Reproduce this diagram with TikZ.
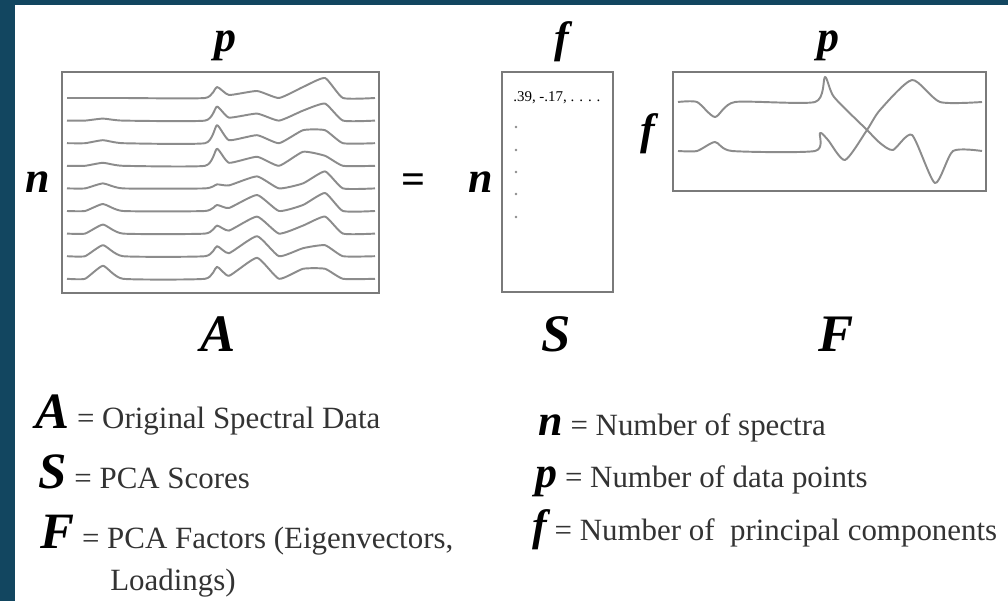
\documentclass[tikz,border=0pt]{standalone}
\usepackage{fontspec}
\setmainfont{Liberation Serif}
\usepackage{xcolor}
\usepackage{tikz}

\definecolor{frame}{HTML}{124660}
\definecolor{curve}{HTML}{8C8C8C}
\definecolor{boxline}{HTML}{7A7A7A}

\newcommand{\bigsym}[1]{{\color{black}\fontsize{29}{29}\selectfont\bfseries\itshape #1}}
\newcommand{\dimsym}[1]{{\color{black}\fontsize{25}{25}\selectfont\bfseries\itshape #1}}

\begin{document}
\begin{tikzpicture}[x=0.02cm,y=-0.02cm,
    mat/.style={draw=boxline,line width=1.4pt},
    spec/.style={curve,line width=1.1pt,line join=round},
    dim/.style={font=\fontsize{25}{25}\selectfont\bfseries\itshape,inner sep=0pt,anchor=base},
    big/.style={font=\fontsize{30}{30}\selectfont\bfseries\itshape,inner sep=0pt,anchor=base},
    key/.style={font=\fontsize{17.6}{21}\selectfont,text=black!80,inner sep=0pt,anchor=base west}]
    \fill[frame] (0,0) rectangle (1008,601);
    \fill[white] (15,5) rectangle (1008,601);
    \useasboundingbox (0,0) rectangle (1008,601);

    % A: the spectra
    \draw[mat] (62,72) rectangle (379,293);
    \foreach \a/\b/\c/\d/\e [count=\i from 0] in {0/11/7/11/20, 2/14/7/10/17, 3/18/8/13/13,
        3/17/9/14/10, 5/4/12/5/17, 7/6/16/6/18, 9/8/17/8/17, 11/10/20/8/11, 13/12/21/10/10}
        \draw[spec,shift={(0,{98+22.6*\i})}] plot[smooth,tension=0.3] coordinates {(67,0) (85,0)
            (103,-\a) (123,0) (205,0) (217,-\b) (229,-3) (257,-\c) (279,0) (303,-\d) (325,-\e)
            (343,0) (375,0)};

    % S: the scores
    \draw[mat] (502,72) rectangle (613,292);
    \node[font=\fontsize{8.5}{9}\selectfont,inner sep=0pt,anchor=west] (row1) at (513,98) {.39, -.17, . . . .};
    \foreach \y in {127,150,172,194,217}
        \fill[curve] (516,\y) circle[radius=1.3];

    % F: the factors
    \draw[mat] (673,72) rectangle (986,191);
    \draw[spec] plot[smooth,tension=0.4] coordinates {(678,102) (697,102) (715,117) (735,102)
        (815,102) (825,77) (834,97) (867,130) (880,143) (893,150) (912,135) (935,183) (953,151) (982,151)};
    \draw[spec] plot[smooth,tension=0.4] coordinates {(678,151) (697,151) (715,142) (732,151)
        (815,151) (820,133) (828,140) (845,160) (867,130) (880,110) (912,80) (940,102) (982,102)};

    % dimensions and names
    \node[dim] (pA) at (225,52) {p};
    \node[dim] (nA) at (38,193) {n};
    \node[font=\fontsize{24}{24}\selectfont\bfseries,inner sep=0pt] (eq) at (414,184) {=};
    \node[dim] (fS) at (562,53) {f};
    \node[dim] (nS) at (481,193) {n};
    \node[dim] (pF) at (828,52) {p};
    \node[dim] (fF) at (648,145) {f};
    \node[big] (labA) at (218,352) {A};
    \node[big] (labS) at (556,352) {S};
    \node[big] (labF) at (836,352) {F};

    % legend
    \node[key] (keyA) at (35,428) {\bigsym{A} = Original Spectral Data};
    \node[key] (keyS) at (38,488) {\bigsym{S} = PCA Scores};
    \node[key] (keyF) at (40,548) {\bigsym{F} = PCA Factors (Eigenvectors,};
    \node[key] (keyL) at (110,590) {Loadings)};
    \node[key] (keyn) at (538,435) {\dimsym{n} = Number of spectra};
    \node[key] (keyp) at (535,487) {\dimsym{p} = Number of data points};
    \node[key] (keyf) at (532,540) {\dimsym{f} = Number of~ principal components};
\end{tikzpicture}
\end{document}
